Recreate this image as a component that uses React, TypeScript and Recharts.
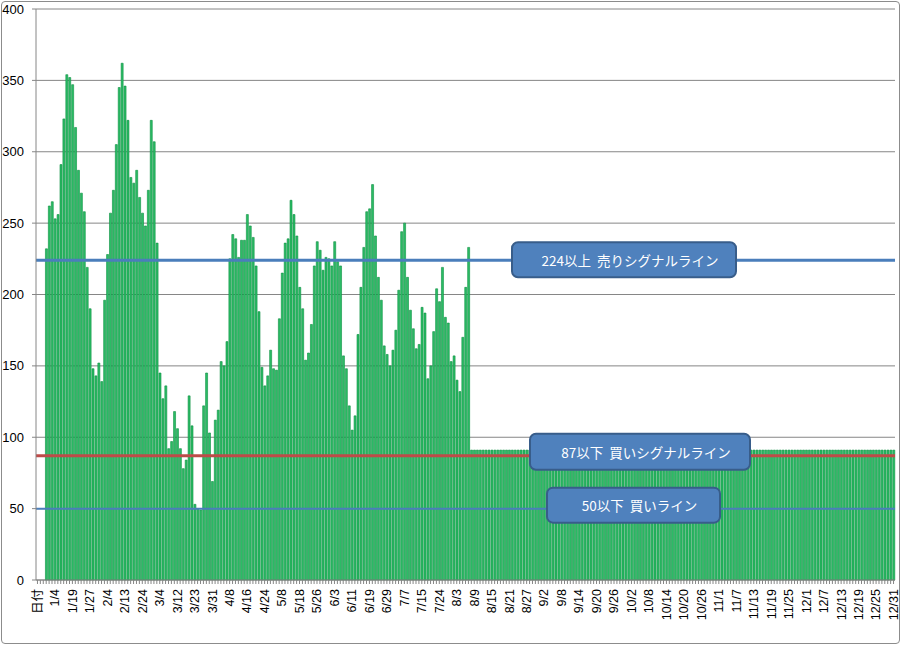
import React from 'react';
import { BarChart, Bar, XAxis, YAxis, CartesianGrid, ReferenceLine } from 'recharts';

// one label every 6 categories, starting at the header cell
const tickLabels = [
    '日付', '1/4', '1/19', '1/27', '2/4', '2/13', '2/24', '3/4', '3/12', '3/23',
    '3/31', '4/8', '4/16', '4/24', '5/8', '5/18', '5/26', '6/3', '6/11', '6/19',
    '6/29', '7/7', '7/15', '7/24', '8/3', '8/9', '8/15', '8/21', '8/27', '9/2',
    '9/8', '9/14', '9/20', '9/26', '10/2', '10/8', '10/14', '10/20', '10/26', '11/1',
    '11/7', '11/13', '11/19', '11/25', '12/1', '12/7', '12/13', '12/19', '12/25', '12/31'
];

// header + days up to 8/8
const activeValues: (number | null)[] = [
    null, null, null,
    232, 262, 265, 253, 256, 291, 323, 354, 352, 347,
    317, 287, 271, 258, 219, 190, 148, 143, 152, 139,
    196, 228, 257, 273, 305, 345, 362, 346, 322, 282,
    278, 287, 268, 257, 248, 273, 322, 307, 236, 145,
    127, 136, 92, 97, 118, 106, 92, 78, 84, 129,
    108, 53, 50, 49, 122, 145, 103, 69, 112, 119,
    153, 150, 167, 225, 242, 239, 226, 238, 238, 256,
    248, 240, 220, 188, 149, 136, 143, 161, 148, 147,
    183, 215, 236, 239, 266, 256, 241, 205, 190, 154,
    159, 179, 220, 237, 231, 217, 226, 225, 220, 237,
    223, 220, 157, 148, 122, 105, 115, 172, 205, 233,
    258, 260, 277, 241, 212, 196, 164, 158, 150, 161,
    175, 203, 244, 250, 212, 189, 176, 162, 165, 191,
    187, 141, 150, 174, 204, 195, 219, 184, 180, 153,
    157, 140, 132, 170, 205, 233
];

// 8/8 .. 12/31, same value every day
const flatValues: number[] = [
    91, 91, 91, 91, 91, 91, 91, 91, 91, 91, 91, 91, 91, 91, 91, 91, 91, 91, 91, 91,
    91, 91, 91, 91, 91, 91, 91, 91, 91, 91, 91, 91, 91, 91, 91, 91, 91, 91, 91, 91,
    91, 91, 91, 91, 91, 91, 91, 91, 91, 91, 91, 91, 91, 91, 91, 91, 91, 91, 91, 91,
    91, 91, 91, 91, 91, 91, 91, 91, 91, 91, 91, 91, 91, 91, 91, 91, 91, 91, 91, 91,
    91, 91, 91, 91, 91, 91, 91, 91, 91, 91, 91, 91, 91, 91, 91, 91, 91, 91, 91, 91,
    91, 91, 91, 91, 91, 91, 91, 91, 91, 91, 91, 91, 91, 91, 91, 91, 91, 91, 91, 91,
    91, 91, 91, 91, 91, 91, 91, 91, 91, 91, 91, 91, 91, 91, 91, 91, 91, 91, 91, 91,
    91, 91, 91, 91, 91, 91
];

const yTicks = [0, 50, 100, 150, 200, 250, 300, 350, 400];

const signalLines = [
    { y: 224, color: '#4A7EBB', width: 3, text: '224以上\u00a0\u00a0売りシグナルライン', dx: 476, dy: -18, w: 224, h: 35 },
    { y: 87, color: '#BE4B48', width: 3, text: '87以下\u00a0\u00a0買いシグナルライン', dx: 494, dy: -22, w: 220, h: 36 },
    { y: 50, color: '#4A7EBB', width: 2, text: '50以下\u00a0\u00a0買いライン', dx: 511, dy: -21, w: 173, h: 35 },
];

const values = [...activeValues, ...flatValues];
const data = values.map((v, i) => ({ idx: i, value: v }));

const DateTick = (props: any) => {
    const { x, y, payload } = props;
    const i = Number(payload.value);
    if (i % 6 !== 0) return null;
    const ty = y + 3;
    return (
        <text
            x={x}
            y={ty}
            dy="0.35em"
            transform={`rotate(-90, ${x}, ${ty})`}
            textAnchor="end"
            fontSize={12.5}
            fontFamily="'Liberation Sans', 'Noto Sans CJK JP', sans-serif"
            fill="#000"
        >
            {tickLabels[i / 6]}
        </text>
    );
};

const SignalBox = (props: any) => {
    const { viewBox, text, dx, dy, w, h } = props;
    if (!viewBox) return null;
    const bx = viewBox.x + dx;
    const by = viewBox.y + dy;
    return (
        <g>
            <rect x={bx} y={by} width={w} height={h} rx={6} ry={6}
                  fill="#4F81BD" stroke="#385D8A" strokeWidth={2} />
            <text x={bx + w / 2 + 6} y={by + h / 2} dominantBaseline="central" textAnchor="middle"
                  fill="#fff" fontSize={13.5} fontFamily="'Noto Sans CJK JP', sans-serif">
                {text}
            </text>
        </g>
    );
};

const App: React.FC = () => {
    return (
        <div style={{ position: 'absolute', left: 0, top: 0, width: 901, height: 645, background: '#fff' }}>
            <BarChart
                width={901}
                height={645}
                data={data}
                margin={{ top: 9, right: 6, bottom: 5, left: 0 }}
                barCategoryGap="24%"
            >
                <CartesianGrid vertical={false} stroke="#868686" />
                <XAxis
                    dataKey="idx"
                    type="category"
                    interval={0}
                    height={60}
                    tickSize={4}
                    tick={<DateTick />}
                    stroke="#868686"
                />
                <YAxis
                    width={36}
                    domain={[0, 400]}
                    ticks={yTicks}
                    tickSize={4}
                    tickMargin={8}
                    stroke="#868686"
                    tick={{ fill: '#000', fontSize: 13, fontFamily: "'Liberation Sans', sans-serif" }}
                />
                <Bar
                    dataKey="value"
                    fill="#2cbd66"
                    stroke="#0a8f40"
                    strokeWidth={0.6}
                    isAnimationActive={false}
                />
                {signalLines.map((s) => (
                    <ReferenceLine
                        key={s.y}
                        y={s.y}
                        stroke={s.color}
                        strokeWidth={s.width}
                        label={<SignalBox text={s.text} dx={s.dx} dy={s.dy} w={s.w} h={s.h} />}
                    />
                ))}
            </BarChart>
            <div style={{
                position: 'absolute', left: 1, top: 1, width: 897, height: 641,
                border: '1px solid #8c8c8c', borderRadius: 4, pointerEvents: 'none'
            }} />
        </div>
    );
};

export default App;
